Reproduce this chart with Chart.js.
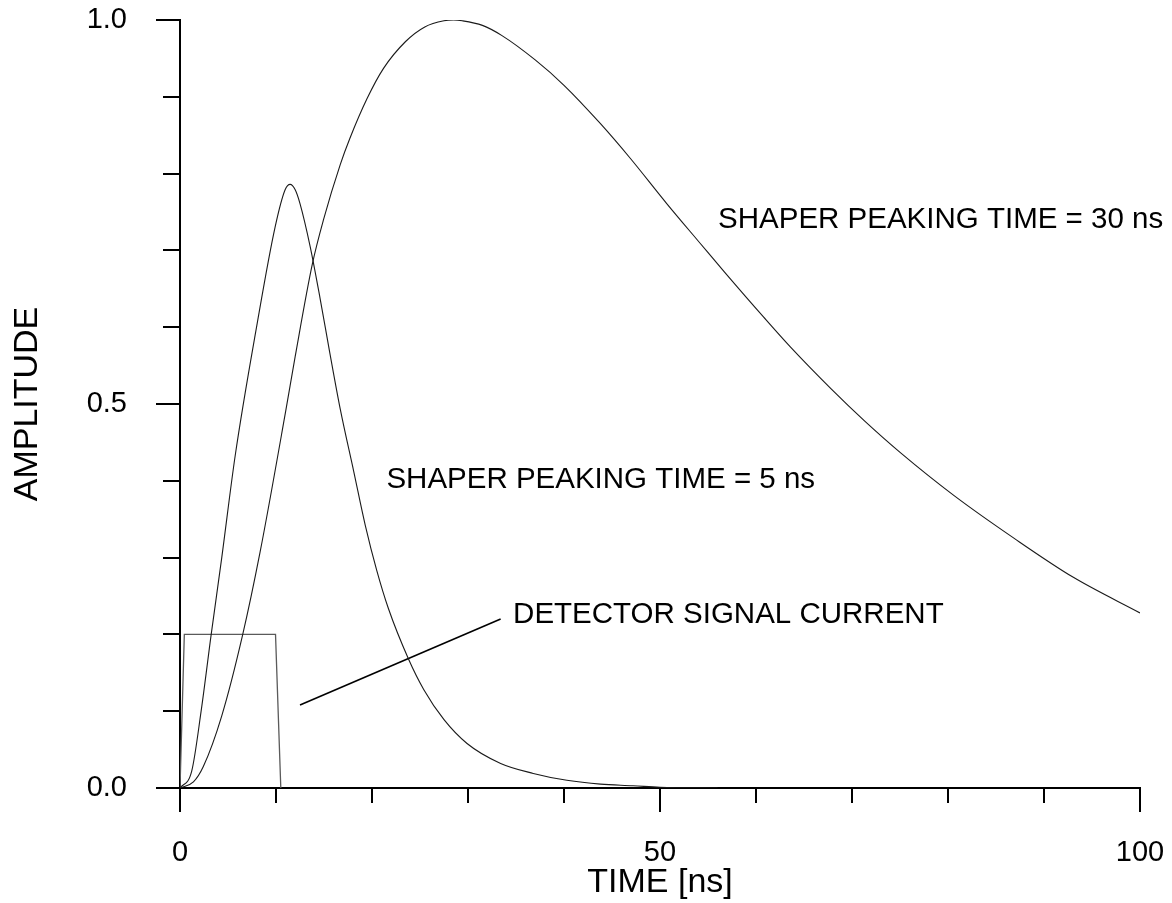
<!DOCTYPE html>
<html>
<head>
<meta charset="utf-8">
<title>Shaper response to a detector current pulse</title>
<script src="https://cdn.jsdelivr.net/npm/chart.js@4.4.1/dist/chart.umd.min.js"></script>
<style>
  html, body { margin: 0; padding: 0; background: #ffffff; }
  canvas { display: block; }
</style>
</head>
<body>
<canvas id="pulse" width="1172" height="903"></canvas>
<script>
// Shaper output, 30 ns peaking time (time in ns, normalised amplitude)
const shaper30Time = [0, 1.4, 2.43, 4.35, 6.5, 8.34, 11.0, 12.0, 13.8, 14.95, 16.7, 17.7, 19.5, 21.2, 23.5, 25.5, 27.5, 28.5, 29.4, 31.5, 33.5, 37.0, 40.0, 43.8, 46.9, 50.7, 54.2, 56.7, 60.8, 63.6, 67.8, 71.3, 75.1, 80.6, 86.9, 93.1, 100];
const shaper30Amp  = [0, 0.008, 0.028, 0.094, 0.198, 0.307, 0.490, 0.562, 0.683, 0.740, 0.812, 0.846, 0.898, 0.937, 0.972, 0.991, 0.999, 1.000, 0.999, 0.993, 0.980, 0.948, 0.915, 0.865, 0.820, 0.761, 0.709, 0.672, 0.613, 0.574, 0.520, 0.478, 0.436, 0.381, 0.325, 0.274, 0.228];

// Shaper output, 5 ns peaking time
const shaper5Time = [0, 1.22, 2.2, 3.25, 4.35, 5.74, 8.0, 9.9, 10.95, 11.47, 12.0, 12.5, 13.56, 14.6, 15.6, 16.7, 18.1, 19.3, 20.5, 21.7, 23.8, 25.4, 27.5, 29.9, 33.4, 36.8, 40.3, 43.8, 47.2, 50.0, 56.0];
const shaper5Amp  = [0, 0.022, 0.100, 0.200, 0.300, 0.432, 0.602, 0.730, 0.779, 0.786, 0.779, 0.761, 0.705, 0.637, 0.567, 0.493, 0.412, 0.342, 0.283, 0.234, 0.168, 0.128, 0.089, 0.058, 0.032, 0.019, 0.010, 0.005, 0.003, 0.001, 0.000];

// Detector signal current (rectangular pulse)
const currentTime = [0, 0.45, 9.95, 10.5];
const currentAmp  = [0, 0.2, 0.2, 0];

// Leader line from the current label towards the pulse
const leaderTime = [12.5, 33.4];
const leaderAmp  = [0.108, 0.220];

// Axis ticks: every tick gets a mark, only some get a label
const xTickValues  = [0, 10, 20, 30, 40, 50, 60, 70, 80, 90, 100];
const xLabelValues = [0, 50, 100];
const yTickValues  = [0, 0.1, 0.2, 0.3, 0.4, 0.5, 0.6, 0.7, 0.8, 0.9, 1.0];
const yLabelValues = [0, 0.5, 1.0];

// In-plot captions (anchored at their left edge)
const captionTexts = ['SHAPER PEAKING TIME = 30 ns', 'SHAPER PEAKING TIME = 5 ns', 'DETECTOR SIGNAL CURRENT'];
const captionTime  = [56.05, 21.5, 34.7];
const captionAmp   = [0.740, 0.401, 0.225];

const FONT = "'Liberation Sans', Arial, Helvetica, sans-serif";

const toPoints = (xs, ys) => xs.map((v, i) => ({ x: v, y: ys[i] }));
const isIn = (list, v) => list.some(u => Math.abs(u - v) < 1e-9);

// Fixed plot frame: the axes reserve exact room and add no extra label padding
const fixScale = (size) => (s) => {
  if (s.isHorizontal()) s.height = size; else s.width = size;
  s.paddingTop = 0; s.paddingBottom = 0; s.paddingLeft = 0; s.paddingRight = 0;
};

// Outward tick marks: long for labelled values, short otherwise
const tickMarks = {
  id: 'tickMarks',
  afterDraw(chart) {
    const { ctx, chartArea, scales: { x, y } } = chart;
    ctx.save();
    ctx.strokeStyle = '#000';
    ctx.lineWidth = 2;
    ctx.beginPath();
    xTickValues.forEach(v => {
      const px = Math.round(x.getPixelForValue(v));
      const len = isIn(xLabelValues, v) ? 24 : 15;
      ctx.moveTo(px, chartArea.bottom);
      ctx.lineTo(px, chartArea.bottom + len);
    });
    yTickValues.forEach(v => {
      const py = Math.round(y.getPixelForValue(v));
      const len = isIn(yLabelValues, v) ? 24 : 17;
      ctx.moveTo(chartArea.left, py);
      ctx.lineTo(chartArea.left - len, py);
    });
    ctx.stroke();
    ctx.restore();
  }
};

// Captions placed in data coordinates
const captions = {
  id: 'captions',
  afterDraw(chart) {
    const { ctx, scales: { x, y } } = chart;
    ctx.save();
    ctx.fillStyle = '#000';
    ctx.font = '29.5px ' + FONT;
    ctx.textAlign = 'left';
    ctx.textBaseline = 'middle';
    captionTexts.forEach((t, i) => {
      ctx.fillText(t, x.getPixelForValue(captionTime[i]), y.getPixelForValue(captionAmp[i]));
    });
    ctx.restore();
  }
};

const lineStyle = { pointRadius: 0, pointHoverRadius: 0, fill: false };

new Chart(document.getElementById('pulse'), {
  type: 'line',
  data: {
    datasets: [
      { ...lineStyle, data: toPoints(shaper30Time, shaper30Amp), borderColor: '#1a1a1a', borderWidth: 1.1, cubicInterpolationMode: 'monotone' },
      { ...lineStyle, data: toPoints(shaper5Time, shaper5Amp), borderColor: '#1a1a1a', borderWidth: 1.1, cubicInterpolationMode: 'monotone' },
      { ...lineStyle, data: toPoints(currentTime, currentAmp), borderColor: '#5a5a5a', borderWidth: 1.3, tension: 0 },
      { ...lineStyle, data: toPoints(leaderTime, leaderAmp), borderColor: '#000', borderWidth: 1.6, tension: 0 }
    ]
  },
  options: {
    responsive: false,
    animation: false,
    devicePixelRatio: 1,
    layout: { padding: { top: 20, right: 32, left: 0, bottom: 0 } },
    plugins: { legend: { display: false }, tooltip: { enabled: false } },
    scales: {
      x: {
        type: 'linear', min: 0, max: 100,
        afterBuildTicks: s => { s.ticks = xLabelValues.map(v => ({ value: v })); },
        afterFit: fixScale(115),
        grid: { display: false },
        border: { display: true, color: '#000', width: 2 },
        ticks: { color: '#000', padding: 40, maxRotation: 0, autoSkip: false, font: { family: FONT, size: 29 }, callback: v => String(v) },
        title: { display: true, text: 'TIME [ns]', color: '#000', font: { family: FONT, size: 34 }, padding: { top: 0, bottom: 0 } }
      },
      y: {
        type: 'linear', min: 0, max: 1,
        afterBuildTicks: s => { s.ticks = yLabelValues.map(v => ({ value: v })); },
        afterFit: fixScale(180),
        grid: { display: false },
        border: { display: true, color: '#000', width: 2 },
        ticks: { color: '#000', padding: 45, autoSkip: false, font: { family: FONT, size: 29 }, callback: v => Number(v).toFixed(1) },
        title: { display: true, text: 'AMPLITUDE', color: '#000', font: { family: FONT, size: 34 }, padding: { top: 7, bottom: 0 } }
      }
    }
  },
  plugins: [tickMarks, captions]
});
</script>
</body>
</html>
